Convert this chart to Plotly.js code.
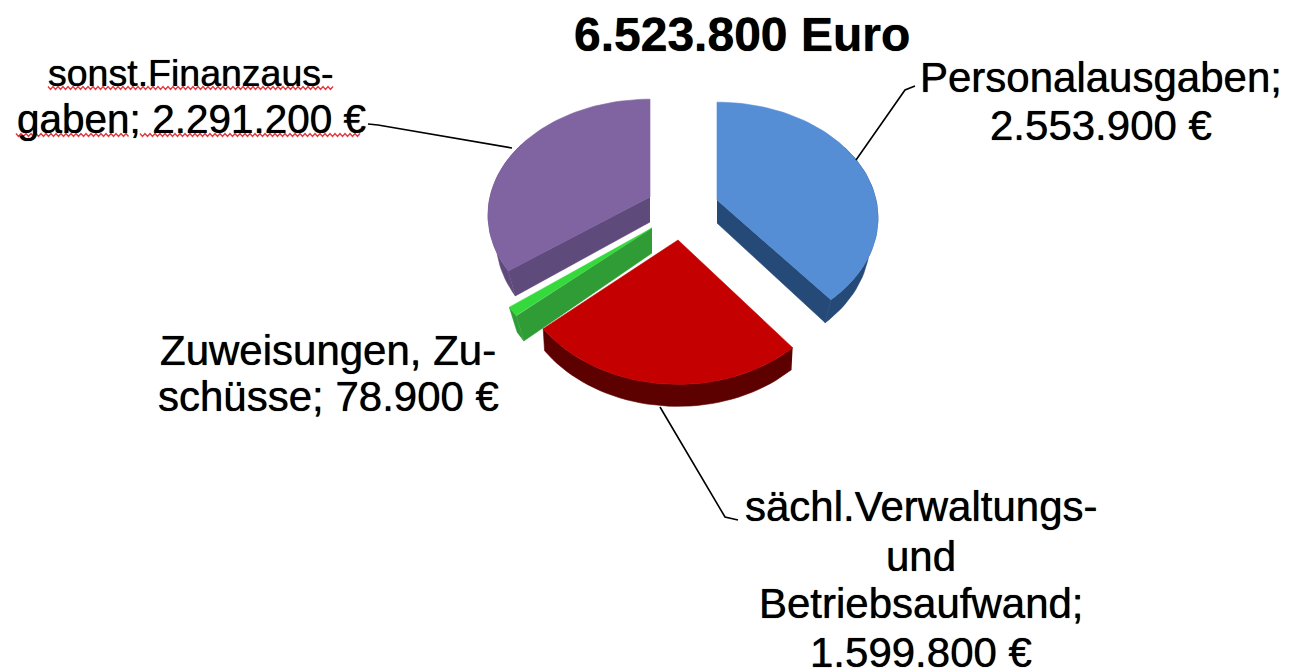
<!DOCTYPE html>
<html><head><meta charset="utf-8">
<script src="https://cdn.plot.ly/plotly-3.0.1.min.js"></script>
<style>html,body{margin:0;padding:0;background:#fff}#c{width:1290px;height:670px}</style>
</head><body><div id="c"></div>
<script>
const chartTitle = "<b>6.523.800 Euro</b>";
const categories = ["Personalausgaben", "sächl.Verwaltungs- und Betriebsaufwand", "Zuweisungen, Zuschüsse", "sonst.Finanzausgaben"];
const values = [2553900, 1599800, 78900, 2291200];
const labelLines = [
  ["Personalausgaben;", "2.553.900 €"],
  ["sächl.Verwaltungs-", "und", "Betriebsaufwand;", "1.599.800 €"],
  ["Zuweisungen, Zu-", "schüsse; 78.900 €"],
  ["sonst.Finanzaus-", "gaben; 2.291.200 €"]
];
const labelCentreX = [1101, 921, 328, 191];
const labelBaselines = [[91, 139], [520, 570, 617, 666], [364, 410], [85, 132]];
const labelSizes = [[42, 42], [42, 42, 42, 42], [42, 42], [37.5, 40.5]];
const topColors = ["#558ed5", "#c40000", "#35d93c", "#8064a2"];
const sideColors = ["#254a78", "#5c0000", "#2f9c35", "#5f4a7c"];

// Projection of each exploded slice: apex, radii, depth, shrink of lower rim
const apexX = [717, 678, 652, 650];
const apexY = [200, 240, 228, 197];
const radiusX = [159, 160, 161, 160];
const radiusY = [113, 122, 121, 113];
const depth = [23, 22, 25, 25];
const shrink = [0.95, 0.99, 0.945, 0.95];
const perspective = 0.155;

const total = values.reduce((a, b) => a + b, 0);
const traces = [];
let cum = 0;
function pt(i, deg, lower) {
  const t = deg * Math.PI / 180;
  const p = 1 / (1 + perspective * Math.cos(t));
  let dx = radiusX[i] * Math.sin(t) * p;
  const dy = -radiusY[i] * Math.cos(t) * p;
  if (lower) dx *= shrink[i];
  return [apexX[i] + dx, apexY[i] + dy + (lower ? depth[i] : 0)];
}
function poly(pts, fill, name) {
  traces.push({type: "scatter", mode: "lines", x: pts.map(p => p[0]), y: pts.map(p => p[1]),
    fill: "toself", fillcolor: fill, line: {color: fill, width: 0.6}, name: name, hoverinfo: "name", showlegend: false});
}
values.forEach((v, i) => {
  const a0 = cum / total * 360, a1 = (cum + v) / total * 360;
  cum += v;
  const apex = [apexX[i], apexY[i]], apexLow = [apexX[i], apexY[i] + depth[i]];
  // outer wall (front-facing part only)
  const w0 = Math.max(a0, 60), w1 = Math.min(a1, 300);
  if (w1 > w0) {
    const up = [], low = [];
    for (let k = 0; k <= 40; k++) {
      const d = w0 + (w1 - w0) * k / 40;
      up.push(pt(i, d, false)); low.push(pt(i, d, true));
    }
    poly(up.concat(low.reverse()), sideColors[i], categories[i]);
  }
  // radial face turned to the viewer
  if (a1 > 90 && a1 < 180) poly([apex, pt(i, a1, false), pt(i, a1, true), apexLow], sideColors[i], categories[i]);
  if (a0 > 180 && a0 < 270) poly([apex, pt(i, a0, false), pt(i, a0, true), apexLow], sideColors[i], categories[i]);
  // top surface
  const top = [apex];
  for (let k = 0; k <= 60; k++) top.push(pt(i, a0 + (a1 - a0) * k / 60, false));
  top.push(apex);
  poly(top, topColors[i], categories[i]);
});

// Spell-check squiggles below the misspelt label
const squiggleRuns = [[48, 333, 88], [16, 130, 135], [140, 362, 135]];
squiggleRuns.forEach(r => {
  const xs = [], ys = [];
  let n = 0;
  for (let x = r[0]; x <= r[1]; x += 2.5) { xs.push(x); ys.push(r[2] + (n % 2 ? 1.5 : -1.5)); n++; }
  traces.push({type: "scatter", mode: "lines", x: xs, y: ys, line: {color: "#e23a40", width: 1.4}, hoverinfo: "skip", showlegend: false});
});

const family = "Liberation Sans, Arial, sans-serif";
const ann = (text, x, baseline, size) => ({text, x, y: baseline - 0.33 * size, xref: "x", yref: "y", xanchor: "center", yanchor: "middle", align: "center", showarrow: false,
  font: {family, size, color: "#000", shadow: "0 0 0.8px #000"}});
const annotations = [ann(chartTitle, 742, 50, 48)];
labelLines.forEach((lines, i) => lines.forEach((line, j) => annotations.push(ann(line, labelCentreX[i], labelBaselines[i][j], labelSizes[i][j]))));
const leader = (path) => ({type: "path", path, xref: "x", yref: "y", line: {color: "#000", width: 1.6}});
const shapes = [
  leader("M 856 160 L 905 90 L 915 86"),
  leader("M 660 407 L 725 517 L 738 520"),
  leader("M 368 124 L 378 125 L 512 148")
];
Plotly.newPlot("c", traces, {
  width: 1290, height: 670, margin: {l: 0, r: 0, t: 0, b: 0},
  paper_bgcolor: "#fff", plot_bgcolor: "#fff", showlegend: false,
  xaxis: {range: [0, 1290], visible: false, fixedrange: true},
  yaxis: {range: [670, 0], visible: false, fixedrange: true},
  annotations, shapes
}, {displayModeBar: false});
</script></body></html>
